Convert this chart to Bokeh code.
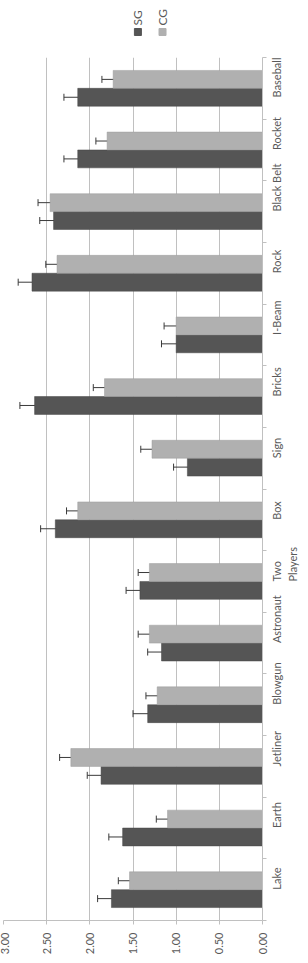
from math import pi
from bokeh.plotting import figure
from bokeh.layouts import column
from bokeh.models import (Range1d, LinearAxis, FixedTicker, Whisker, TeeHead,
                          ColumnDataSource, NumeralTickFormatter)
from bokeh.core.properties import value
from bokeh.transform import dodge
from bokeh.embed import file_html
from bokeh.resources import INLINE

# ---- data ----
categories = ["Lake", "Earth", "Jetliner", "Blowgun", "Astronaut", "Two\nPlayers", "Box",
              "Sign", "Bricks", "I-Beam", "Rock", "Black Belt", "Rocket", "Baseball"]
sg_mean = [1.75, 1.62, 1.87, 1.33, 1.17, 1.42, 2.40, 0.87, 2.64, 1.00, 2.67, 2.42, 2.14, 2.14]
sg_err = [0.16, 0.16, 0.16, 0.17, 0.16, 0.16, 0.17, 0.16, 0.17, 0.17, 0.16, 0.16, 0.16, 0.16]
cg_mean = [1.54, 1.10, 2.22, 1.22, 1.31, 1.31, 2.14, 1.28, 1.83, 1.00, 2.38, 2.46, 1.80, 1.73]
cg_err = [0.13, 0.13, 0.13, 0.13, 0.13, 0.13, 0.13, 0.13, 0.13, 0.14, 0.13, 0.14, 0.13, 0.13]
value_ticks = [0.0, 0.5, 1.0, 1.5, 2.0, 2.5, 3.0]
series = ["SG", "CG"]

# ---- styles ----
SG_COLOR = "#555555"
CG_COLOR = "#b0b0b0"
TEXT_COLOR = "#595959"
GRID_COLOR = "#c0c0c0"
WHISKER_COLOR = "#3a3a3a"
FONT = "Lato"
FS = "11px"
OFF = 0.145
BAR_H = 0.29
LEGEND_H = 57

n = len(categories)
centers = [i + 0.5 for i in range(n)]
bounds = list(range(n + 1))
first_lines = [c.split("\n")[0] for c in categories]
second_lines = {c: lab.split("\n")[1] for c, lab in zip(centers, categories) if "\n" in lab}

src = ColumnDataSource(dict(
    pos=centers,
    sg=sg_mean, sg_lo=[m - e for m, e in zip(sg_mean, sg_err)], sg_hi=[m + e for m, e in zip(sg_mean, sg_err)],
    cg=cg_mean, cg_lo=[m - e for m, e in zip(cg_mean, cg_err)], cg_hi=[m + e for m, e in zip(cg_mean, cg_err)],
))

p = figure(width=308, height=963 - LEGEND_H, output_backend="svg", toolbar_location=None,
           y_range=Range1d(0, n), x_range=Range1d(3, 0), y_axis_location=None,
           min_border_left=3, min_border_right=42, min_border_top=0, min_border_bottom=43)
p.outline_line_color = None

p.hbar(y=dodge("pos", -OFF), left=0, right="sg", height=BAR_H, source=src,
       fill_color=SG_COLOR, line_color="#474747", line_width=0.5)
p.hbar(y=dodge("pos", OFF), left=0, right="cg", height=BAR_H, source=src,
       fill_color=CG_COLOR, line_color="#9c9c9c", line_width=0.5)

for name, off in (("sg", -OFF), ("cg", OFF)):
    w = Whisker(source=src, base=dodge("pos", off), lower=name + "_lo",
                upper=name + "_hi", dimension="width", line_color=WHISKER_COLOR, line_width=1,
                upper_head=TeeHead(size=7, line_color=WHISKER_COLOR, line_width=1),
                lower_head=TeeHead(size=7, line_color=WHISKER_COLOR, line_width=1))
    p.add_layout(w)

# value axis (bottom)
xa = p.xaxis[0]
xa.ticker = FixedTicker(ticks=value_ticks)
xa.formatter = NumeralTickFormatter(format="0.00")
xa.major_label_orientation = pi / 2
xa.major_label_text_font = FONT
xa.major_label_text_font_size = FS
xa.major_label_text_color = TEXT_COLOR
xa.major_label_standoff = 8
xa.major_tick_in = 0
xa.major_tick_out = 4
xa.minor_tick_out = 0
xa.minor_tick_in = 0
xa.axis_line_color = GRID_COLOR
xa.major_tick_line_color = GRID_COLOR

p.xgrid.ticker = FixedTicker(ticks=value_ticks)
p.xgrid.grid_line_color = GRID_COLOR
p.ygrid.grid_line_color = None

# category axis (right): labels at centres, small ticks at boundaries
cat_axis = LinearAxis(ticker=FixedTicker(ticks=centers, minor_ticks=bounds),
                      major_label_overrides={c: lab for c, lab in zip(centers, first_lines)},
                      major_tick_in=0, major_tick_out=0, minor_tick_in=0, minor_tick_out=4,
                      axis_line_color=GRID_COLOR, major_tick_line_color=None,
                      minor_tick_line_color=GRID_COLOR,
                      major_label_standoff=10, major_label_orientation=pi / 2,
                      major_label_text_font=FONT, major_label_text_font_size=FS,
                      major_label_text_color=TEXT_COLOR)
p.add_layout(cat_axis, "right")

# second line of wrapped category labels
wrap_axis = LinearAxis(ticker=FixedTicker(ticks=list(second_lines.keys()), minor_ticks=[]),
                       major_label_overrides=second_lines,
                       major_tick_in=0, major_tick_out=0, minor_tick_in=0, minor_tick_out=0,
                       axis_line_color=None, major_tick_line_color=None,
                       minor_tick_line_color=None,
                       major_label_standoff=0, major_label_orientation=pi / 2,
                       major_label_text_font=FONT, major_label_text_font_size=FS,
                       major_label_text_color=TEXT_COLOR)
p.add_layout(wrap_axis, "right")

# legend strip above the plot (rotated like the chart)
top = figure(width=308, height=LEGEND_H, output_backend="svg", toolbar_location=None,
             x_range=p.x_range, y_range=Range1d(0, LEGEND_H),
             x_axis_location=None, y_axis_location=None,
             min_border_left=3, min_border_right=42, min_border_top=0, min_border_bottom=0)
top.outline_line_color = None
top.xgrid.grid_line_color = None
top.ygrid.grid_line_color = None
leg = ColumnDataSource(dict(x=[1.443, 1.158], name=series, color=[SG_COLOR, CG_COLOR]))
top.scatter(x="x", y=25.5, source=leg, marker="square", size=7,
            fill_color="color", line_color="color")
top.text(x="x", y=32, text="name", source=leg, angle=pi / 2, text_align="left",
         text_baseline="middle", text_font=value(FONT), text_font_size=value("12px"),
         text_color=TEXT_COLOR)

layout = column(top, p, spacing=0)
open("out.html", "w").write(file_html(layout, INLINE))
